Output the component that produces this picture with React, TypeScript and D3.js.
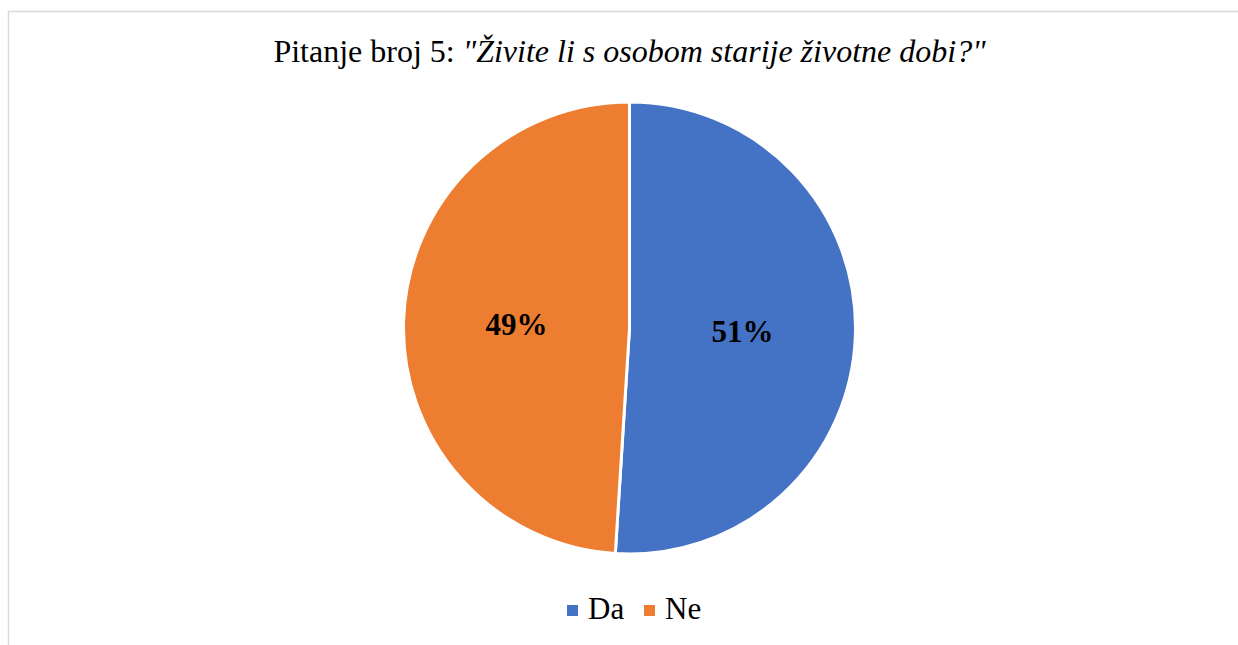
import React from "react";
import * as d3 from "d3";

const categories = ["Da", "Ne"];
const values = [51, 49];
const colors = ["#4472C4", "#ED7D31"];

const W = 1238;
const H = 645;
const cx = 629.5;
const cy = 328;
const R = 226;

export default function App() {
  const pie = d3.pie<number>().sort(null).value((d) => d);
  const arcs = pie(values);
  const arc = d3.arc<d3.PieArcDatum<number>>().innerRadius(0).outerRadius(R);
  const labelArc = d3.arc<d3.PieArcDatum<number>>().innerRadius(R * 0.5).outerRadius(R * 0.5);
  const total = d3.sum(values);
  const font = "'Liberation Serif', 'Times New Roman', serif";
  const legendX = [567, 644];

  return (
    <svg width={W} height={H} style={{ position: "absolute", left: 0, top: 0, background: "#fff" }}>
      <rect x={8.5} y={11.5} width={W + 10} height={H + 10} fill="#fff" stroke="#d9d9d9" strokeWidth={1.5} />
      <text x={cx} y={62} textAnchor="middle" fontFamily={font} fontSize={32} fill="#000">
        <tspan>Pitanje broj 5: </tspan>
        <tspan fontStyle="italic">"Živite li s osobom starije životne dobi?"</tspan>
      </text>
      <g transform={`translate(${cx},${cy})`}>
        {arcs.map((a, i) => (
          <path key={categories[i]} d={arc(a) || ""} fill={colors[i]} stroke="#fff" strokeWidth={3} />
        ))}
        {arcs.map((a, i) => {
          const [x, y] = labelArc.centroid(a);
          return (
            <text key={"l" + i} x={x} y={y} textAnchor="middle" dominantBaseline="central" fontFamily={font} fontWeight="bold" fontSize={31} fill="#000">
              {Math.round((values[i] / total) * 100)}%
            </text>
          );
        })}
      </g>
      <g>
        {categories.map((c, i) => {
          const x0 = legendX[i];
          return (
            <g key={c}>
              <rect x={x0} y={605} width={11} height={11} fill={colors[i]} />
              <text x={x0 + 21} y={619} fontFamily={font} fontSize={31} fill="#000">{c}</text>
            </g>
          );
        })}
      </g>
    </svg>
  );
}
